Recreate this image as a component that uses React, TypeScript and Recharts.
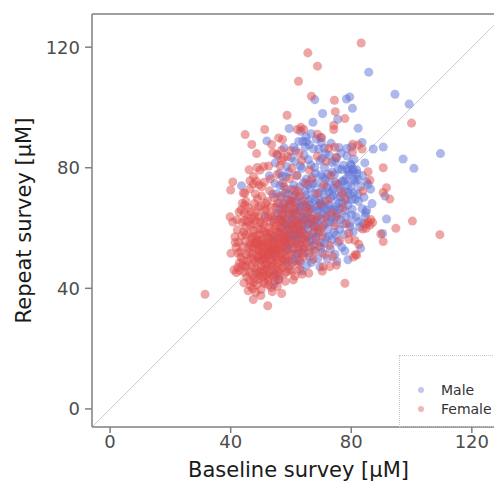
import { ScatterChart, Scatter, XAxis, YAxis, ZAxis, ReferenceLine } from "recharts";

/* ── 축 범위와 눈금 ── */
const AXIS_DOMAIN: [number, number] = [-6, 131];
const AXIS_TICKS = [0, 40, 80, 120];

const MALE_COLOR = "#5f72d6";
const FEMALE_COLOR = "#dd4b4b";

/* ── Male: [baseline, repeat] ── */
const MALE_POINTS: [number, number][] = [
  [85.8, 111.7], [94.5, 104.4], [99.2, 101.1], [67.9, 102.6], [78.4, 102.8], [79.5, 103.5], [80.4, 99.7],
  [70.5, 98.0], [75.5, 96.1], [67.3, 95.1], [82.3, 93.1], [59.4, 93.0], [52.0, 88.9], [61.5, 85.7],
  [62.6, 88.7], [64.0, 88.8], [65.0, 90.3], [65.2, 88.7], [68.4, 89.5], [69.8, 90.0], [71.0, 86.5],
  [78.5, 86.4], [80.1, 86.9], [83.6, 88.4], [87.3, 86.2], [90.6, 86.9], [97.2, 82.9], [100.8, 79.8],
  [109.6, 84.7], [91.2, 70.6], [86.4, 72.9], [85.1, 75.3], [91.7, 63.0], [85.1, 66.0], [90.4, 58.2],
  [83.1, 53.3], [78.9, 49.5], [63.6, 45.8], [54.3, 41.3], [56.0, 43.0], [55.0, 44.5], [43.6, 74.0],
  [54.8, 81.6], [79.5, 61.5], [82.3, 62.2], [84.0, 61.5], [84.6, 63.9], [77.6, 75.5], [80.6, 79.6],
  [81.9, 78.1], [80.9, 76.2], [79.9, 80.9],
  [56.2, 58.4], [57.1, 62.3], [57.8, 66.9], [58.4, 55.1], [58.9, 60.7], [59.5, 64.2], [60.1, 68.8],
  [60.6, 57.3], [61.2, 61.9], [61.7, 66.1], [62.3, 70.4], [62.8, 54.6], [63.3, 59.2], [63.8, 63.7],
  [64.3, 67.8], [64.8, 72.1], [65.3, 56.9], [65.8, 61.4], [66.3, 65.3], [66.8, 69.7], [67.3, 74.6],
  [67.8, 58.7], [68.3, 63.1], [68.8, 67.4], [69.3, 71.8], [69.8, 55.2], [70.3, 60.2], [70.8, 64.6],
  [71.3, 68.9], [71.8, 73.5], [72.3, 77.9], [72.8, 62.1], [73.3, 66.3], [73.8, 70.7], [74.3, 58.6],
  [74.8, 75.2], [75.3, 64.8], [75.8, 68.1], [76.3, 72.9], [76.8, 79.4], [77.3, 61.3], [77.8, 65.7],
  [78.3, 69.3], [78.8, 74.1], [79.3, 77.8], [79.8, 81.2], [80.3, 66.2], [80.8, 71.7], [81.3, 75.6],
  [81.8, 79.3], [82.4, 68.9], [83.1, 73.7], [83.8, 77.4], [84.5, 81.6],
  [55.4, 64.9], [56.7, 70.3], [57.6, 73.8], [58.3, 76.9], [59.1, 52.8], [60.4, 49.7], [61.8, 51.3],
  [63.1, 48.9], [64.6, 51.8], [66.1, 50.4], [67.5, 52.7], [68.9, 49.8], [60.9, 74.3], [62.1, 77.6],
  [63.6, 79.8], [65.1, 76.3], [66.6, 80.9], [68.1, 78.2], [69.6, 82.4], [71.1, 80.1], [73.6, 81.7],
  [75.1, 83.2], [76.6, 84.8], [70.6, 76.9], [74.1, 73.1], [77.1, 75.6], [78.9, 71.9], [80.1, 73.8],
  [82.2, 71.3], [83.6, 66.4], [81.6, 63.7], [79.6, 60.4], [77.6, 57.9], [75.6, 55.3], [73.1, 53.1],
  [71.6, 56.8], [69.1, 58.3], [67.2, 56.1], [65.6, 59.8], [64.1, 56.2], [62.6, 62.7], [61.1, 65.3],
  [59.7, 69.1], [58.1, 71.6], [57.3, 59.9], [59.8, 58.2], [61.5, 59.6], [63.9, 61.2], [65.4, 63.9],
  [66.9, 61.8], [68.6, 65.9], [70.1, 62.9], [71.9, 66.1], [73.4, 63.4], [74.9, 67.3], [76.4, 70.4],
  [72.6, 71.9], [70.9, 71.1], [69.4, 69.2], [67.9, 71.6], [66.4, 73.2], [64.9, 70.9], [63.4, 68.6],
  [61.9, 68.3], [60.4, 63.4], [59.2, 66.6], [62.2, 57.1], [64.2, 65.1], [66.2, 67.6], [68.2, 60.5],
  [70.2, 67.3], [72.2, 59.6], [74.2, 61.8], [76.2, 66.4], [78.2, 63.8], [80.2, 69.4], [82.2, 76.1],
  [84.2, 70.2], [85.6, 74.4], [86.9, 68.1], [84.8, 65.1], [73.7, 78.6], [71.4, 84.7], [67.4, 86.3],
  [64.4, 84.1], [61.3, 82.1], [58.6, 80.4], [56.3, 78.2], [54.7, 74.8], [53.9, 71.2], [55.9, 68.1],
  [54.2, 62.7], [55.1, 56.6], [56.6, 52.3], [57.9, 49.1], [59.3, 47.4], [65.2, 47.6], [70.4, 51.9],
  [74.6, 51.3], [76.9, 53.6], [80.6, 58.7], [82.8, 60.3], [79.1, 78.7], [80.9, 82.8], [78.6, 83.9],
  [75.9, 86.7], [73.3, 88.1], [70.1, 88.4], [66.7, 91.3], [63.2, 92.1], [57.7, 86.6], [55.6, 84.1],
  [52.8, 77.3], [51.4, 64.1], [53.5, 56.4], [54.4, 50.9],
  [58.6, 62.4], [59.4, 59.5], [60.2, 61.1], [60.9, 64.5], [61.5, 57.8], [62.1, 60.2], [62.7, 65.6],
  [63.2, 67.1], [63.7, 62.3], [64.3, 59.7], [64.9, 62.6], [65.4, 66.9], [65.9, 69.2], [66.5, 63.1],
  [67.0, 66.5], [67.6, 60.9], [68.1, 69.1], [68.7, 62.6], [69.2, 65.4], [69.8, 68.3], [70.4, 73.4],
  [70.9, 66.9], [71.5, 61.5], [72.0, 64.2], [72.6, 67.7], [73.1, 69.9], [73.7, 72.4], [74.3, 65.9],
  [74.8, 63.6], [75.4, 70.3], [75.9, 74.4], [76.5, 62.8], [77.1, 68.4], [77.7, 72.3], [78.3, 76.2],
  [78.9, 67.6], [79.5, 71.1], [80.1, 64.3], [80.7, 78.6], [81.3, 69.6], [65.9, 57.6], [66.4, 55.4],
  [67.4, 54.3], [68.4, 57.1], [69.9, 53.6], [71.1, 54.9], [72.4, 57.2], [73.6, 56.1], [74.9, 57.7],
  [76.1, 59.6], [62.9, 58.1], [61.6, 55.9], [60.6, 53.4], [59.9, 55.7], [58.8, 57.6], [57.9, 61.2],
  [57.4, 64.6], [58.1, 68.4], [59.1, 71.3], [60.3, 72.8], [61.6, 71.2], [62.9, 73.6], [64.2, 75.1],
  [65.6, 74.3], [67.1, 76.8], [68.5, 74.9], [69.9, 77.6], [71.3, 76.1], [72.8, 75.3], [74.4, 77.7],
  [75.7, 79.6], [77.4, 80.8], [78.6, 79.4], [63.1, 80.6], [65.8, 82.7], [67.9, 80.1], [70.3, 83.1],
  [72.7, 84.1], [74.6, 82.1], [69.2, 86.2], [66.1, 87.6], [64.7, 86.9], [60.9, 86.8], [60.1, 83.4],
  [59.3, 78.6], [57.1, 77.1], [56.4, 74.1], [55.3, 71.4], [56.1, 66.2], [56.8, 62.9], [57.6, 56.3],
  [58.7, 53.2], [61.4, 49.1], [62.5, 51.6], [64.4, 53.4], [66.8, 48.6], [69.6, 47.1], [72.1, 49.8],
  [75.2, 48.9], [77.9, 52.4],
];

/* ── Female: [baseline, repeat] ── */
const FEMALE_POINTS: [number, number][] = [
  [83.3, 121.4], [65.6, 118.1], [68.8, 113.7], [62.5, 108.7], [66.8, 103.7], [74.4, 102.4], [74.7, 98.6],
  [77.9, 96.3], [58.7, 97.4], [100.0, 94.8], [44.8, 91.0], [51.3, 92.7], [90.6, 80.0], [100.3, 62.3],
  [109.4, 57.8], [94.8, 59.9], [92.8, 69.6], [91.7, 73.4], [90.6, 71.8], [89.8, 58.0], [90.6, 55.5],
  [31.5, 38.0], [52.3, 34.2], [47.5, 36.3], [50.0, 37.6], [56.9, 38.3], [77.9, 41.7], [75.1, 47.7],
  [72.9, 47.2], [70.7, 47.2], [70.4, 45.7], [65.9, 45.0], [63.7, 44.7], [52.6, 41.1], [49.6, 44.2],
  [48.5, 45.0], [40.7, 75.3], [40.0, 72.6], [39.8, 63.7], [40.7, 62.0], [41.4, 57.1], [40.1, 51.6],
  [41.1, 46.1], [41.9, 45.2], [44.7, 62.6], [44.7, 67.6], [46.4, 75.7], [47.5, 74.6], [44.7, 71.5],
  [46.4, 73.0], [48.5, 75.5], [50.3, 73.7], [49.7, 79.2], [51.0, 80.4], [52.6, 80.6], [54.0, 85.0],
  [55.3, 84.5], [56.9, 82.4], [57.5, 83.2], [59.8, 85.6], [47.0, 87.7], [48.6, 84.7], [53.6, 87.7],
  [56.9, 85.8], [55.9, 89.9], [57.2, 89.4], [62.1, 92.7], [63.3, 93.4], [64.2, 92.7], [68.8, 91.1],
  [70.2, 90.0], [74.2, 94.1], [74.2, 92.7], [72.5, 86.5], [74.5, 86.8], [75.0, 83.5], [80.5, 87.8],
  [82.3, 87.5], [83.6, 86.2], [80.4, 85.2], [85.6, 78.7], [86.2, 75.9], [83.8, 72.3], [86.5, 62.8],
  [85.6, 62.0], [84.9, 61.3], [83.8, 59.7], [87.1, 61.8], [86.2, 61.0], [84.9, 59.9], [81.8, 51.0],
  [80.7, 50.4], [79.2, 56.2], [81.2, 55.9], [82.5, 54.6], [81.4, 51.2],
  [43.2, 52.1], [44.1, 49.3], [44.8, 55.6], [45.3, 47.8], [45.9, 53.4], [46.2, 58.1], [46.7, 50.2],
  [47.1, 44.6], [47.4, 61.3], [47.8, 55.2], [48.1, 48.7], [48.3, 52.9], [48.6, 57.4], [48.9, 46.1],
  [49.2, 63.8], [49.4, 50.6], [49.7, 54.3], [49.9, 59.7], [50.2, 47.3], [50.4, 52.0], [50.6, 56.2],
  [50.8, 44.9], [51.0, 61.1], [51.2, 49.8], [51.4, 53.7], [51.6, 58.3], [51.8, 66.2], [52.0, 46.4],
  [52.2, 51.3], [52.4, 55.1], [52.6, 60.2], [52.8, 43.7], [53.0, 49.1], [53.2, 53.0], [53.4, 57.6],
  [53.6, 64.1], [53.8, 47.2], [54.0, 51.8], [54.2, 55.9], [54.4, 61.7], [54.6, 45.1], [54.8, 50.4],
  [55.0, 54.2], [55.2, 58.8], [55.4, 68.3], [55.6, 48.3], [55.8, 52.6], [56.0, 56.7], [56.2, 62.9],
  [56.4, 46.7], [56.6, 51.1], [56.8, 55.0], [57.0, 60.4], [57.2, 65.8], [57.4, 49.7], [57.6, 53.8],
  [57.8, 58.1], [58.0, 63.2], [58.2, 47.9], [58.4, 52.4], [58.6, 56.3], [58.8, 61.2], [59.0, 69.4],
  [59.3, 50.8], [59.6, 54.6], [59.9, 59.3], [60.2, 64.7], [60.5, 48.6], [60.8, 53.1], [61.1, 57.8],
  [61.4, 62.3], [61.7, 67.1], [62.0, 51.6], [62.3, 55.8], [62.6, 60.7], [62.9, 46.3], [63.2, 65.4],
  [63.5, 54.2], [63.8, 58.9], [64.1, 50.3], [64.4, 62.8], [64.7, 56.1],
  [46.5, 60.8], [49.1, 66.9], [44.3, 58.7], [42.6, 55.3], [43.8, 61.9], [45.7, 64.2], [47.9, 68.1],
  [50.3, 70.6], [52.9, 72.4], [48.2, 71.3], [45.1, 68.9], [43.5, 66.1], [42.2, 59.4], [41.8, 53.6],
  [42.9, 48.4], [44.6, 45.3], [46.3, 42.6], [48.7, 41.2], [50.9, 42.1], [53.5, 40.3], [55.9, 42.8],
  [57.8, 44.9], [59.7, 46.2], [61.3, 44.1], [50.1, 39.6], [47.3, 39.9], [45.4, 43.7], [43.1, 45.9],
  [51.7, 48.2], [49.6, 57.8], [52.5, 63.7], [54.9, 66.9], [56.7, 70.8], [58.5, 72.9], [60.6, 70.2],
  [62.4, 72.3], [64.3, 69.1], [66.2, 66.4], [65.8, 61.3], [67.1, 58.2], [66.4, 53.7], [68.3, 55.9],
  [67.7, 62.8], [69.1, 60.1], [70.4, 57.4], [71.6, 63.6], [69.8, 67.9], [68.6, 71.4], [70.9, 74.2],
  [72.3, 69.2], [73.5, 65.1], [74.6, 60.8], [72.8, 54.3], [71.2, 51.2], [73.9, 50.6], [76.1, 55.8],
  [75.4, 63.9], [77.3, 66.7], [76.8, 71.8], [78.4, 61.4], [79.2, 58.3], [77.9, 69.8], [75.3, 74.6],
  [73.2, 77.4], [66.8, 76.1], [64.9, 74.8], [61.9, 77.3], [59.6, 76.4], [57.3, 74.9], [55.5, 77.8],
  [53.2, 76.3], [51.1, 75.2], [49.4, 74.3], [47.6, 77.1], [46.1, 79.3], [44.2, 71.6], [48.8, 80.1],
  [56.4, 80.7], [60.3, 79.8], [63.6, 82.4], [58.9, 83.7], [62.7, 84.9], [66.1, 79.2], [68.7, 83.8],
  [71.7, 82.1],
  [47.2, 51.4], [48.4, 54.8], [49.5, 48.9], [50.7, 51.7], [51.3, 55.4], [52.1, 58.2], [53.3, 51.6],
  [54.1, 48.2], [50.0, 55.9], [48.9, 59.6], [47.5, 57.1], [46.4, 55.0], [45.2, 51.2], [46.9, 47.4],
  [49.8, 45.7], [51.9, 44.3], [53.7, 45.9], [55.3, 47.1], [56.9, 49.3], [55.7, 53.4], [54.5, 57.2],
  [53.1, 61.9], [51.5, 63.4], [50.2, 61.7], [48.1, 62.5], [46.8, 63.1], [57.9, 55.7], [58.7, 59.1],
  [57.1, 62.6], [59.4, 64.8], [60.9, 60.6], [61.6, 54.9], [60.1, 51.3], [62.8, 49.2], [52.7, 47.6],
  [49.3, 52.5], [50.9, 58.9], [53.9, 54.6], [55.1, 60.7], [56.3, 58.4], [47.7, 49.6], [44.9, 60.3],
  [43.6, 57.4], [46.0, 66.7], [48.5, 65.3], [51.6, 68.2], [54.3, 70.1], [57.5, 67.9], [60.7, 66.3],
  [63.3, 59.4], [65.1, 57.4], [64.0, 53.2], [62.5, 58.3], [59.2, 56.9], [58.1, 50.1], [56.1, 44.2],
  [54.7, 42.4], [52.4, 42.9], [50.5, 43.8], [48.0, 43.3], [52.3, 50.6], [51.1, 46.1], [53.6, 52.5],
  [49.0, 55.1], [50.3, 49.4],
  [45.6, 49.1], [46.1, 51.9], [46.6, 54.3], [47.0, 56.6], [47.6, 59.2], [48.0, 46.6], [48.8, 50.8],
  [49.3, 53.2], [49.8, 62.1], [50.5, 54.6], [50.9, 50.2], [51.4, 47.6], [51.9, 52.4], [52.3, 56.9],
  [52.8, 54.1], [53.1, 58.8], [53.7, 49.6], [54.2, 53.2], [54.6, 59.6], [55.2, 51.4], [55.6, 55.8],
  [56.1, 53.6], [56.5, 60.1], [57.2, 51.8], [57.7, 57.2], [58.3, 54.1], [58.9, 48.9], [59.5, 61.8],
  [60.3, 55.6], [61.0, 59.6], [61.8, 62.5], [62.4, 53.4], [63.0, 61.4], [63.6, 56.7], [47.3, 53.6],
  [48.7, 56.2], [49.1, 49.7], [50.6, 53.3], [51.8, 50.6], [52.5, 53.9], [53.4, 55.5], [54.3, 52.6],
  [55.4, 49.6], [56.2, 54.8], [57.0, 57.5], [45.0, 57.7], [44.0, 53.8], [43.4, 50.3], [42.4, 51.7],
  [41.5, 55.2], [42.1, 62.7], [42.8, 65.3], [43.9, 68.2], [44.5, 64.9], [45.6, 62.1], [46.7, 65.4],
  [47.8, 63.9], [48.9, 69.7], [50.1, 67.4], [51.2, 65.9], [52.2, 68.9], [53.3, 66.8], [54.6, 64.2],
  [55.8, 62.4], [56.9, 64.7], [58.2, 66.3], [59.6, 67.8], [60.9, 68.7], [62.1, 64.3], [61.2, 72.6],
  [63.1, 70.7], [64.8, 67.2], [65.5, 64.9], [66.7, 63.5], [67.5, 60.4], [68.9, 63.7], [69.6, 58.9],
  [70.8, 60.9], [65.1, 54.8], [66.0, 51.9], [67.3, 49.6], [68.1, 52.3], [69.4, 54.1], [63.7, 51.6],
  [62.2, 47.9], [60.4, 45.7], [58.6, 45.4], [57.3, 46.8], [55.8, 45.6], [54.1, 44.1], [52.7, 45.2],
  [51.3, 41.6], [49.2, 42.9], [47.6, 42.0], [46.2, 45.4], [44.9, 47.2], [43.7, 47.5], [42.3, 46.9],
  [48.3, 38.7], [46.6, 40.8], [55.5, 40.6], [58.1, 42.3], [60.8, 42.8], [53.8, 38.9], [44.4, 41.8],
  [45.8, 39.2],
];

const LEGEND_ITEMS = [
  { label: "Male", color: MALE_COLOR },
  { label: "Female", color: FEMALE_COLOR },
];

const toXY = (pts: [number, number][]) => pts.map(([x, y]) => ({ x, y }));

const AXIS_GRAY = "#7f7f7f";
const TICK_STYLE = { fontSize: 18, fill: "#4d4d4d" };

export default function App() {
  return (
    <div
      style={{
        position: "absolute",
        left: 0,
        top: 0,
        width: 494,
        height: 481,
        overflow: "hidden",
        background: "#fff",
        fontFamily: '"DejaVu Sans", sans-serif',
      }}
    >
      <ScatterChart width={520} height={481} margin={{ top: 14, right: 15, bottom: 0, left: 0 }}>
        <XAxis
          type="number"
          dataKey="x"
          domain={AXIS_DOMAIN}
          ticks={AXIS_TICKS}
          allowDataOverflow
          height={54}
          tickSize={6}
          tickMargin={2}
          axisLine={{ stroke: AXIS_GRAY, strokeWidth: 1.5 }}
          tickLine={{ stroke: AXIS_GRAY, strokeWidth: 1.5 }}
          tick={TICK_STYLE}
          label={{
            value: "Baseline survey [\u03BCM]",
            position: "insideBottom",
            offset: 4,
            fill: "#1a1a1a",
            fontSize: 21,
          }}
        />
        <YAxis
          type="number"
          dataKey="y"
          domain={AXIS_DOMAIN}
          ticks={AXIS_TICKS}
          allowDataOverflow
          width={92}
          tickSize={7}
          tickMargin={5}
          axisLine={{ stroke: AXIS_GRAY, strokeWidth: 1.5 }}
          tickLine={{ stroke: AXIS_GRAY, strokeWidth: 1.5 }}
          tick={TICK_STYLE}
          label={{
            value: "Repeat survey [\u03BCM]",
            angle: -90,
            position: "insideLeft",
            offset: 24,
            fill: "#1a1a1a",
            fontSize: 21,
            style: { textAnchor: "middle" },
          }}
        />
        <ZAxis range={[34, 34]} />
        {/* 상단·우측 테두리 */}
        <ReferenceLine y={131} stroke={AXIS_GRAY} strokeWidth={1.5} />
        <ReferenceLine x={131} stroke={AXIS_GRAY} strokeWidth={1.5} />
        {/* y = x 대각선 */}
        <ReferenceLine
          segment={[
            { x: -6, y: -6 },
            { x: 131, y: 131 },
          ]}
          stroke="#cfcfcf"
          strokeWidth={1}
        />
        <Scatter
          name="Male"
          data={toXY(MALE_POINTS)}
          fill={MALE_COLOR}
          fillOpacity={0.5}
          isAnimationActive={false}
        />
        <Scatter
          name="Female"
          data={toXY(FEMALE_POINTS)}
          fill={FEMALE_COLOR}
          fillOpacity={0.5}
          isAnimationActive={false}
        />
      </ScatterChart>

      {/* 범례 */}
      <div
        style={{
          position: "absolute",
          left: 399,
          top: 355,
          width: 130,
          height: 72,
          border: "1px dotted #c8c8c8",
          boxSizing: "border-box",
          paddingTop: 24,
        }}
      >
        {LEGEND_ITEMS.map((item) => (
          <div key={item.label} style={{ display: "flex", alignItems: "center", height: 19 }}>
            <span
              style={{
                display: "inline-block",
                width: 6,
                height: 6,
                borderRadius: 3,
                background: item.color,
                opacity: 0.4,
                marginLeft: 18,
                marginRight: 17,
              }}
            />
            <span style={{ fontSize: 14, color: "#333" }}>{item.label}</span>
          </div>
        ))}
      </div>
    </div>
  );
}
